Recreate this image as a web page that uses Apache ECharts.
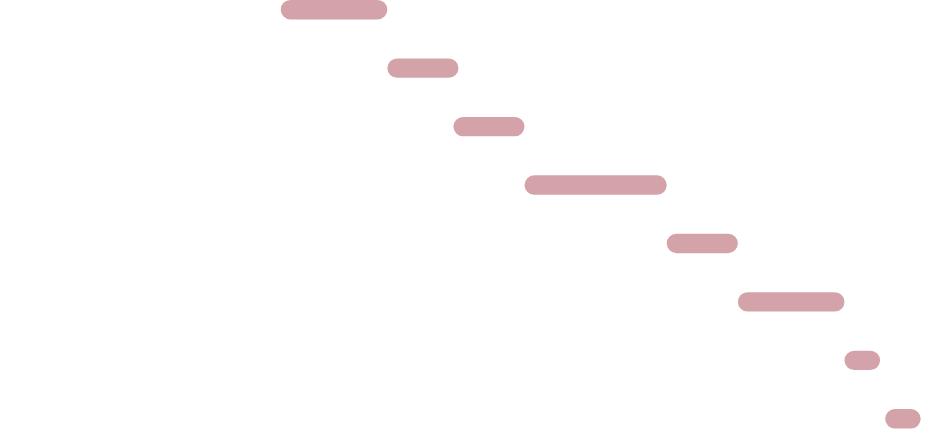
<!DOCTYPE html>
<html>
<head>
<meta charset="utf-8">
<script src="https://cdn.jsdelivr.net/npm/echarts@6/dist/echarts.min.js"></script>
<style>
  html, body { margin: 0; padding: 0; background: #fff; }
  #chart { width: 930px; height: 448px; }
</style>
</head>
<body>
<div id="chart"></div>
<script>
// task rows, top to bottom
const tasks = ['Task 1', 'Task 2', 'Task 3', 'Task 4', 'Task 5', 'Task 6', 'Task 7', 'Task 8']
// start / end in days from project start
const startDays = [0, 21, 34, 48, 76, 90, 111, 119]
const endDays = [21, 35, 48, 76, 90, 111, 118, 126]

const durations = startDays.map((s, i) => endDays[i] - s)

const chart = echarts.init(document.getElementById('chart'))

const option = {
  animation: false,
  grid: {
    left: 280.7,
    right: 9.3,
    top: 9.7,
    bottom: 29.2
  },
  xAxis: {
    type: 'value',
    min: 0,
    max: 126,
    show: false
  },
  yAxis: {
    type: 'category',
    data: tasks,
    inverse: true,
    boundaryGap: false,
    show: false
  },
  series: [
    {
      name: 'offset',
      type: 'bar',
      stack: 'gantt',
      barWidth: 19.4,
      itemStyle: { color: 'transparent' },
      data: startDays
    },
    {
      name: 'duration',
      type: 'bar',
      stack: 'gantt',
      barWidth: 19.4,
      itemStyle: {
        color: '#d3a3a9',
        borderRadius: 10
      },
      data: durations
    }
  ]
}

chart.setOption(option)
</script>
</body>
</html>
